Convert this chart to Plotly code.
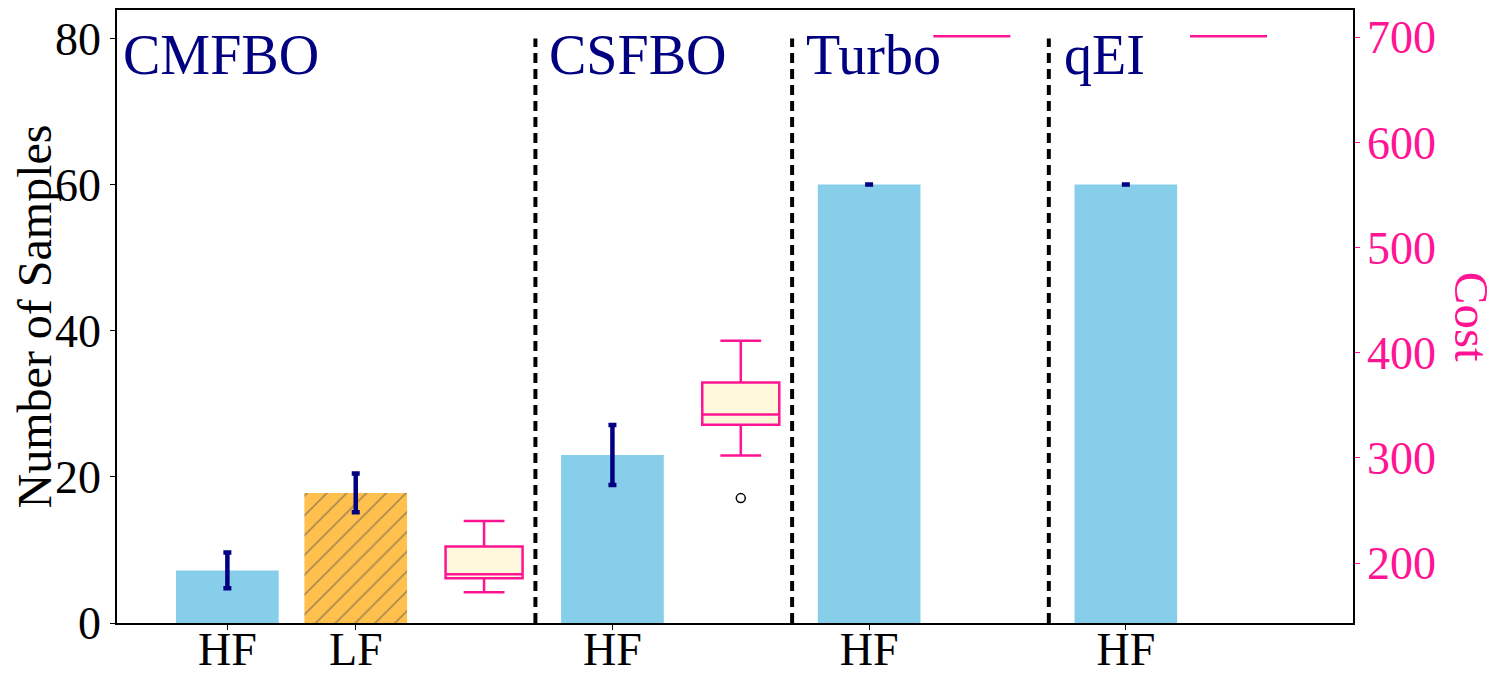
import plotly.graph_objects as go

# sample counts (left axis)
hf_pos = [0, 3, 5, 7]
hf_samples = [7.2, 23.0, 60.0, 60.0]
hf_err = [2.45, 4.1, 0.0, 0.0]
lf_pos = [1]
lf_samples = [17.8]
lf_err = [2.65]

# cost boxes (right axis)
box_pos = [2, 4, 5.8, 7.8]
cost_lower = [172.3, 302.3, 701, 701]
cost_q1 = [185.5, 331.6, 701, 701]
cost_median = [189.3, 341.4, 701, 701]
cost_q3 = [215.8, 371.7, 701, 701]
cost_upper = [240.0, 411.5, 701, 701]
outlier_pos = [4]
outlier_cost = [261.8]

tick_pos = [0, 1, 3, 5, 7]
tick_text = ["HF", "LF", "HF", "HF", "HF"]
dividers = [2.4, 4.4, 6.4]
methods = ["CMFBO", "CSFBO", "Turbo", "qEI"]
method_x = [-0.83, 2.49, 4.49, 6.5]

FONT = "Liberation Serif"
PINK = "#FF1493"
NAVY = "#000080"

fig = go.Figure()

fig.add_trace(go.Bar(
    x=hf_pos, y=hf_samples, width=0.8, marker=dict(color="#87CEEB", line=dict(width=0)),
    error_y=dict(type="data", array=hf_err, color=NAVY, thickness=4.5, width=4),
    showlegend=False))

fig.add_trace(go.Bar(
    x=lf_pos, y=lf_samples, width=0.8,
    marker=dict(color="#FFC04D", line=dict(width=0),
                pattern=dict(shape="/", fgcolor="#555555", size=14, solidity=0.12)),
    error_y=dict(type="data", array=lf_err, color=NAVY, thickness=4.5, width=4),
    showlegend=False))

fig.add_trace(go.Box(
    x=box_pos, q1=cost_q1, median=cost_median, q3=cost_q3,
    lowerfence=cost_lower, upperfence=cost_upper,
    width=0.6, whiskerwidth=0.53, fillcolor="#FFF8DC",
    line=dict(color=PINK, width=2.5), yaxis="y2", showlegend=False))

fig.add_trace(go.Scatter(
    x=outlier_pos, y=outlier_cost, mode="markers", yaxis="y2",
    marker=dict(symbol="circle-open", size=9, color="black", line=dict(width=1.5)),
    showlegend=False))

for d in dividers:
    fig.add_shape(type="line", x0=d, x1=d, y0=0, y1=80, xref="x", yref="y",
                  line=dict(color="black", width=4, dash="10px,6px"))

for name, mx in zip(methods, method_x):
    fig.add_annotation(x=mx, y=77.8, xref="x", yref="y", text=name, showarrow=False,
                       xanchor="left", yanchor="middle",
                       font=dict(family=FONT, size=56, color=NAVY))

# axis titles as annotations so they sit where the reference has them
fig.add_annotation(x=-0.0664, y=0.5, xref="paper", yref="paper", text="Number of Samples",
                   showarrow=False, textangle=-90, xanchor="center", yanchor="middle",
                   font=dict(family=FONT, size=48, color="black"))
fig.add_annotation(x=1.096, y=0.5, xref="paper", yref="paper", text="Cost", showarrow=False,
                   textangle=90, xanchor="center", yanchor="middle",
                   font=dict(family=FONT, size=49, color=PINK))

# page body has an 8px margin, so the figure is shrunk by that much
fig.update_layout(
    width=1491, height=679,
    margin=dict(l=109, r=146, t=2, b=64),
    plot_bgcolor="white", paper_bgcolor="white",
    barmode="overlay",
    font=dict(family=FONT, color="black"),
    xaxis=dict(range=[-0.86, 8.77], tickvals=tick_pos, ticktext=tick_text,
               tickfont=dict(size=46), ticks="outside", ticklen=5, tickcolor="black",
               ticklabelstandoff=-20, automargin=False,
               showline=True, linecolor="black", linewidth=1.5, mirror=True,
               showgrid=False, zeroline=False),
    yaxis=dict(range=[0, 83.9], tickvals=[0, 20, 40, 60, 80],
               tickfont=dict(size=46), ticks="outside", ticklen=5, tickcolor="black",
               automargin=False,
               showline=True, linecolor="black", linewidth=1.5,
               showgrid=False, zeroline=False),
    yaxis2=dict(range=[143, 726], overlaying="y", side="right",
                tickvals=[200, 300, 400, 500, 600, 700],
                tickfont=dict(size=46, color=PINK), ticks="outside", ticklen=5, tickcolor=PINK,
                ticklabelstandoff=-2, automargin=False,
                showline=True, linecolor="black", linewidth=1.5,
                showgrid=False, zeroline=False),
)

fig.write_html("out.html")
